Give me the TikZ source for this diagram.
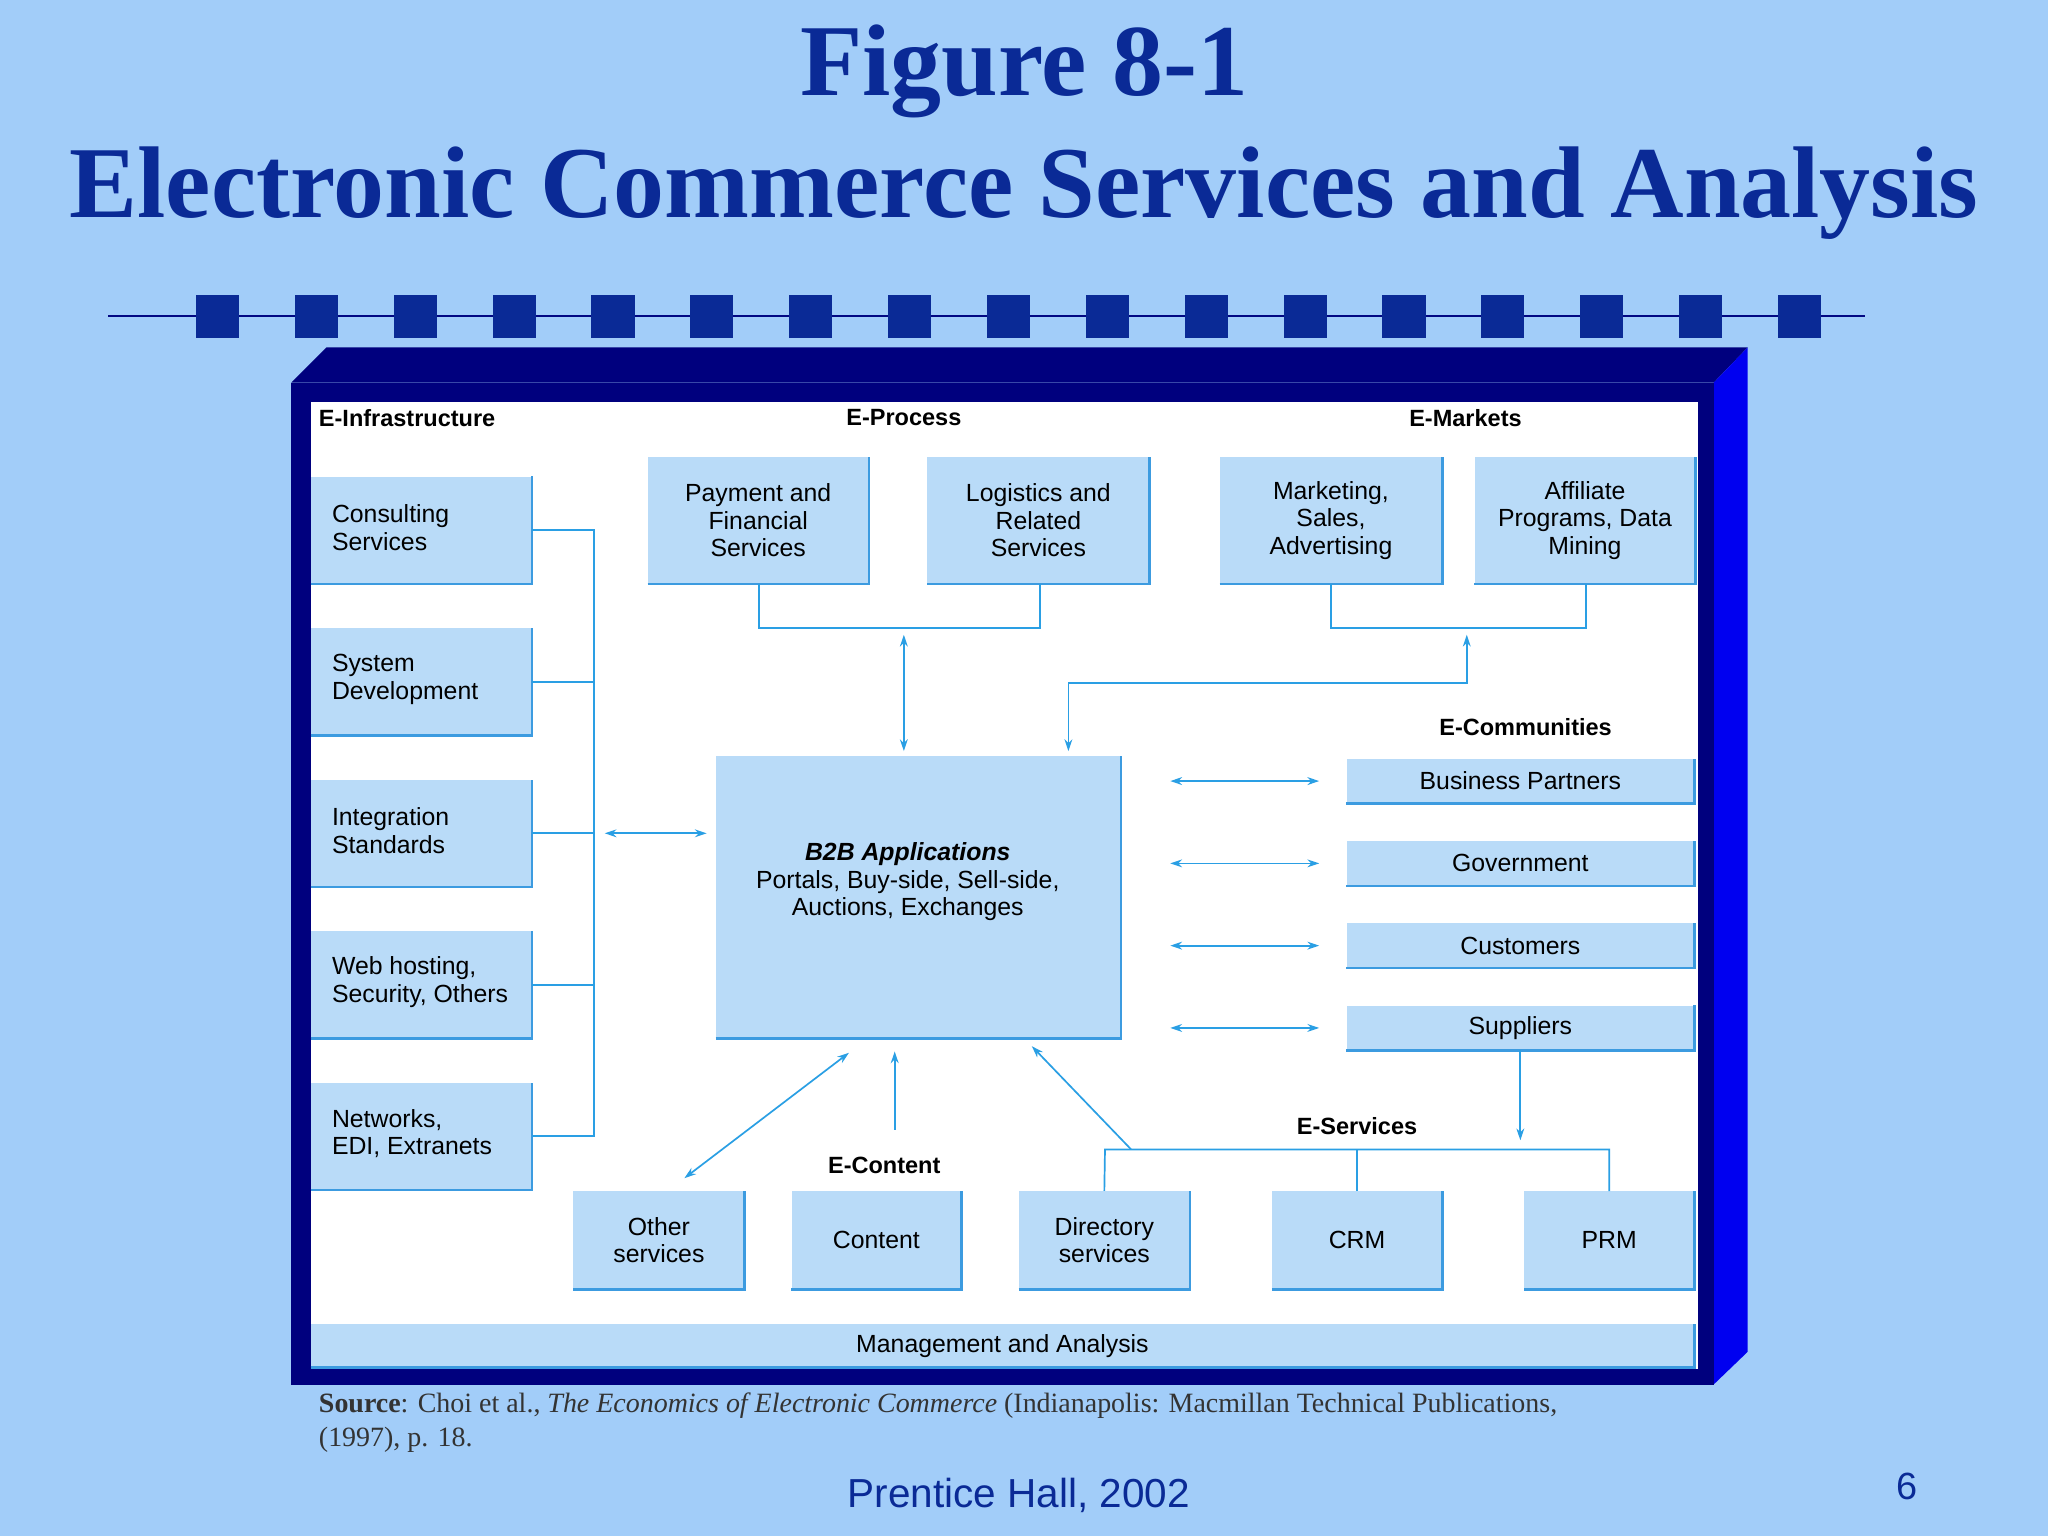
\documentclass[tikz,border=0pt]{standalone}
\usepackage{fontspec}
\setmainfont{Liberation Serif}
\newfontfamily\sansf{Liberation Sans}
\usetikzlibrary{arrows.meta}
\definecolor{bg}{HTML}{A2CDF9}
\definecolor{ttl}{HTML}{0A2A96}
\definecolor{navy}{HTML}{00007E}
\definecolor{brt}{HTML}{0000F0}
\definecolor{bfill}{HTML}{B9DBF8}
\definecolor{bedge}{HTML}{3C9BE0}
\definecolor{conn}{HTML}{2A9FE4}
\begin{document}
\begin{tikzpicture}[x=1pt,y=1pt,
 box/.style={fill=bfill,inner sep=0pt,font=\sansf\fontsize{19}{21}\selectfont,text=black,align=center},
 lab/.style={font=\sansf\bfseries\fontsize{18}{20}\selectfont,inner sep=0pt},
 cn/.style={draw=conn,line width=1.3pt},
 ar/.style={cn,-{Stealth[length=9pt,width=6pt]}},
 dar/.style={cn,{Stealth[length=9pt,width=6pt]}-{Stealth[length=9pt,width=6pt]}}]
\fill[bg] (0,0) rectangle (1568,-1176);
\useasboundingbox (0,0) rectangle (1568,-1176);
% title
\node[text=ttl,font=\bfseries\fontsize{78}{84}\selectfont] (t1) at (784,-55) {Figure 8-1};
\node[text=ttl,font=\bfseries\fontsize{78}{84}\selectfont] (t2) at (784,-148) {Electronic Commerce Services and Analysis};
\draw[navy!80!ttl,line width=1pt] (83,-242) -- (1428,-242);
\foreach \i in {0,...,16} \fill[ttl] ({150+\i*75.7},-226) rectangle ++(33,-33);
% frame
\fill[navy] (223,-293) -- (250,-266) -- (1338,-266) -- (1312,-293) -- cycle;
\fill[brt] (1312,-293) -- (1338,-266) -- (1338,-1035) -- (1312,-1060) -- cycle;
\fill[navy] (223,-293) rectangle (1312,-1060);
\fill[white] (238,-308) rectangle (1300,-1048);
% boxes
\newcommand{\bx}[6]{\node[box,minimum width={#3-#2},minimum height={#5-#4},#6] (#1) at ({(#2+#3)/2},{-(#4+#5)/2}) {};}
\bx{cons}{238}{407}{365}{447}{}
\bx{sysd}{238}{407}{481}{563}{}
\bx{intg}{238}{407}{597}{679}{}
\bx{webh}{238}{407}{713}{795}{}
\bx{netw}{238}{407}{829}{911}{}
\node[box,align=left,anchor=west] at (254,-404) {Consulting\\Services};
\node[box,align=left,anchor=west] at (254,-520) {System\\Development};
\node[box,align=left,anchor=west] at (254,-636) {Integration\\Standards};
\node[box,align=left,anchor=west] at (254,-752) {Web hosting,\\Security, Others};
\node[box,align=left,anchor=west] at (254,-868) {Networks,\\EDI, Extranets};
\bx{pay}{496}{665}{350}{447}{}
\bx{log}{710}{880}{350}{447}{}
\bx{mkt}{934}{1104}{350}{447}{}
\bx{aff}{1129}{1298}{350}{447}{}
\node[box] at (pay) {Payment and\\Financial\\Services};
\node[box] at (log) {Logistics and\\Related\\Services};
\node[box] at (mkt) {Marketing,\\Sales,\\Advertising};
\node[box] at (aff) {Affiliate\\Programs, Data\\Mining};
\bx{b2b}{548}{858}{579}{795}{}
\node[box] at (695,-675) {\textbf{\textit{B2B Applications}}\\Portals, Buy-side, Sell-side,\\Auctions, Exchanges};
\bx{bp}{1031}{1297}{581}{615}{}
\bx{gov}{1031}{1297}{644}{678}{}
\bx{cus}{1031}{1297}{707}{741}{}
\bx{sup}{1031}{1297}{770}{804}{}
\node[box] at (bp) {Business Partners};
\node[box] at (gov) {Government};
\node[box] at (cus) {Customers};
\node[box] at (sup) {Suppliers};
\bx{oth}{439}{570}{912}{987}{}
\bx{con}{606}{736}{912}{987}{}
\bx{dir}{780}{911}{912}{987}{}
\bx{crm}{974}{1104}{912}{987}{}
\bx{prm}{1167}{1297}{912}{987}{}
\node[box] at (oth) {Other\\services};
\node[box] at (con) {Content};
\node[box] at (dir) {Directory\\services};
\node[box] at (crm) {CRM};
\node[box] at (prm) {PRM};
\bx{mgmt}{238}{1297}{1014}{1047}{}
\node[box] at (mgmt) {Management and Analysis};
\foreach \n in {cons,sysd,intg,webh,netw,pay,log,mkt,aff,b2b,bp,gov,cus,sup,oth,con,dir,crm,prm,mgmt}
 \draw[bedge,line width=2pt] (\n.south west) -- (\n.south east) -- (\n.north east);
% labels
\node[lab,anchor=west] (l1) at (244,-320) {E-Infrastructure};
\node[lab] (l2) at (692,-320) {E-Process};
\node[lab] (l3) at (1122,-320) {E-Markets};
\node[lab] (l4) at (1168,-557) {E-Communities};
\node[lab] (l5) at (1039,-862) {E-Services};
\node[lab] (l6) at (677,-892) {E-Content};
% connectors
\draw[cn] (cons.east) -- (455,-406) -- (netw.east -| 455,0) -- (netw.east);
\foreach \n in {sysd,intg,webh} \draw[cn] (\n.east) -- (\n.east -| 455,0);
\coordinate (ia) at (463,-638); \coordinate (ib) at (541,-638);
\draw[dar] (ia) -- (ib);
\coordinate (pj) at (581,-481); \coordinate (lj) at (796,-481);
\draw[cn] (pay.south -| pj) -- (pj) -- (lj) -- (log.south -| lj);
\coordinate (pa) at (692,-486); \coordinate (pb) at (692,-575);
\draw[dar] (pa) -- (pb);
\coordinate (mj) at (1019,-481); \coordinate (aj) at (1214,-481);
\draw[cn] (mkt.south -| mj) -- (mj) -- (aj) -- (aff.south -| aj);
\coordinate (ma) at (818,-575); \coordinate (mb) at (1123,-486);
\draw[dar] (ma) -- (818,-523) -- (1123,-523) -- (mb);
\foreach \n in {bp,gov,cus,sup} {
 \draw[dar] (896,0 |- \n.center) -- (1010,0 |- \n.center);}
\coordinate (se) at (1164,-873);
\draw[ar] (sup.south -| se) -- (se);
\draw[cn] (dir.north) -- (846,-880) -- (1232,-880) -- (1232,-912);
\draw[cn] (1039,-880) -- (crm.north);
\coordinate (sa) at (866,-880); \coordinate (sb) at (790,-801);
\draw[ar] (sa) -- (sb);
\coordinate (oa) at (524,-902); \coordinate (ob) at (650,-806);
\draw[dar] (oa) -- (ob);
\coordinate (ca) at (685,-865); \coordinate (cb) at (685,-805);
\draw[ar] (ca) -- (cb);
% source
\node[anchor=west,text=black!80,font=\fontsize{21.4}{23}\selectfont,inner sep=0pt] (s1) at (244,-1076) {\textbf{Source}: Choi et al., \textit{The Economics of Electronic Commerce} (Indianapolis: Macmillan Technical Publications,};
\node[anchor=west,text=black!80,font=\fontsize{21.4}{23}\selectfont,inner sep=0pt] (s2) at (244,-1102) {(1997), p. 18.};
\node[text=ttl,font=\sansf\fontsize{31}{34}\selectfont] (ph) at (780,-1145) {Prentice Hall, 2002};
\node[text=ttl,font=\sansf\fontsize{29}{32}\selectfont] (pg) at (1460,-1138) {6};
\end{tikzpicture}
\end{document}
